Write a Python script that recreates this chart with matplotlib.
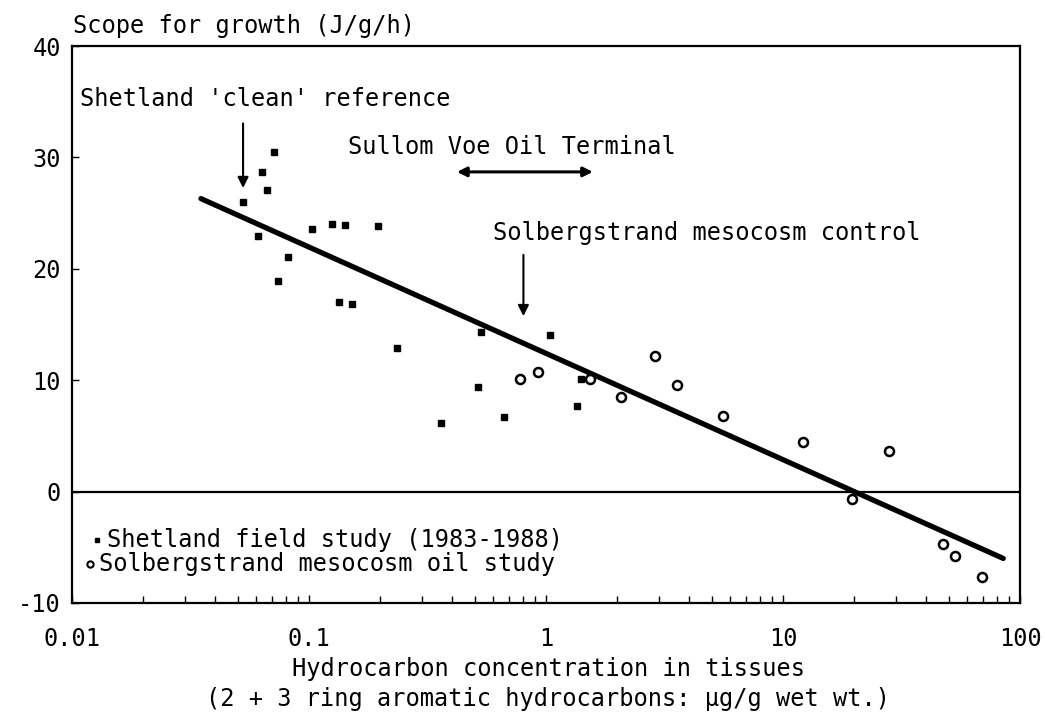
import numpy as np
import matplotlib.pyplot as plt
from matplotlib.ticker import FixedLocator, NullFormatter

# wide, evenly spaced lettering like the old plotter text
plt.rcParams['font.family'] = ['DejaVu Sans Mono', 'DejaVu Sans']
FS = 17

# Shetland field study (1983-1988), filled squares
shet_x = [0.0527, 0.0712, 0.0635, 0.0666, 0.0611, 0.1032, 0.1254, 0.142, 0.196,
          0.0817, 0.0742, 0.134, 0.152, 0.236, 0.534, 1.035, 1.40, 0.519, 0.668,
          0.362, 1.345]
shet_y = [26.0, 30.5, 28.7, 27.1, 22.9, 23.6, 24.0, 23.9, 23.8,
          21.1, 18.9, 17.0, 16.8, 12.9, 14.3, 14.1, 10.1, 9.4, 6.7,
          6.2, 7.7]

# Solbergstrand mesocosm oil study, open circles
solb_x = [0.780, 0.929, 1.53, 2.87, 3.56, 2.08, 5.56, 12.1, 28.0, 19.5, 47.3, 53.1, 69.1]
solb_y = [10.1, 10.7, 10.1, 12.2, 9.6, 8.5, 6.8, 4.45, 3.6, -0.66, -4.7, -5.8, -7.7]

# regression line end points
fit_x = [0.035, 85]
fit_y = [26.3, -6.0]

y_ticks = [-10, 0, 10, 20, 30, 40]
x_ticks = [0.01, 0.1, 1, 10, 100]
x_tick_labels = ['0.01', '0.1', '1', '10', '100']

fig = plt.figure(figsize=(10.45, 7.15), dpi=100)
ax = fig.add_axes([72/1045, 1 - 603/715, (1020 - 72)/1045, (603 - 46)/715])

ax.set_xscale('log')
ax.set_xlim(0.01, 100)
ax.set_ylim(-10, 40)

ax.axhline(0, color='black', lw=1.6)
ax.plot(fit_x, fit_y, color='black', lw=3.8, solid_capstyle='round')
ax.plot(shet_x, shet_y, 's', color='black', ms=4.5, ls='none')
ax.plot(solb_x, solb_y, 'o', mfc='white', mec='black', mew=1.8, ms=6.5, ls='none')

for s in ax.spines.values():
    s.set_linewidth(1.6)

ax.set_yticks(y_ticks)
ax.set_yticklabels([str(v) for v in y_ticks])
ax.xaxis.set_major_locator(FixedLocator(x_ticks))
ax.set_xticklabels(x_tick_labels)
ax.xaxis.set_minor_locator(FixedLocator(
    [m * 10.0**e for e in range(-2, 2) for m in range(2, 10)]))
ax.xaxis.set_minor_formatter(NullFormatter())
ax.tick_params(axis='both', which='both', direction='in', labelsize=FS)
ax.tick_params(axis='x', which='major', length=6, width=1, pad=17)
ax.tick_params(axis='x', which='minor', length=5, width=1)
ax.tick_params(axis='y', which='major', length=5, width=1, pad=8)

fig.text(73/1045, 1 - 33/715, 'Scope for growth (J/g/h)', fontsize=FS,
         ha='left', va='baseline')

# annotations
ax.text(0.0108, 34.6, "Shetland 'clean' reference", fontsize=FS, ha='left', va='baseline')
ax.annotate('', xy=(0.0527, 27.0), xytext=(0.0527, 33.3),
            arrowprops=dict(arrowstyle='-|>', color='black', lw=1.5, mutation_scale=16))
ax.text(0.1466, 30.3, 'Sullom Voe Oil Terminal', fontsize=FS, ha='left', va='baseline')
ax.annotate('', xy=(0.41, 28.7), xytext=(1.62, 28.7),
            arrowprops=dict(arrowstyle='<|-|>', color='black', lw=2.2, mutation_scale=14))
ax.text(0.600, 22.6, 'Solbergstrand mesocosm control', fontsize=FS, ha='left', va='baseline')
ax.annotate('', xy=(0.803, 15.5), xytext=(0.803, 21.5),
            arrowprops=dict(arrowstyle='-|>', color='black', lw=1.5, mutation_scale=16))

# legend as text
ax.plot([0.01275], [-4.3], 's', color='black', ms=3.5)
ax.text(0.0141, -4.3, 'Shetland field study (1983-1988)', fontsize=FS, ha='left', va='center')
ax.plot([0.0119], [-6.5], 'o', mfc='white', mec='black', mew=1.5, ms=4.5)
ax.text(0.0130, -6.5, 'Solbergstrand mesocosm oil study', fontsize=FS, ha='left', va='center')

fig.text(548/1045, 1 - 669/715, 'Hydrocarbon concentration in tissues', fontsize=FS,
         ha='center', va='center')
fig.text(548/1045, 1 - 699/715, '(2 + 3 ring aromatic hydrocarbons: µg/g wet wt.)',
         fontsize=FS, ha='center', va='center')

fig.savefig('out.png', dpi=100)
